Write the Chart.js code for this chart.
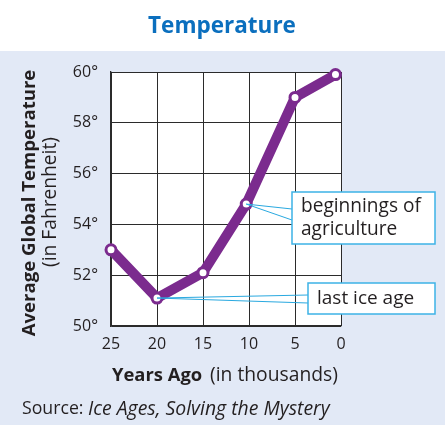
<!DOCTYPE html>
<html>
<head>
<meta charset="utf-8">
<script src="https://cdn.jsdelivr.net/npm/chart.js@4.4.1/dist/chart.umd.min.js"></script>
<style>
    html, body { margin: 0; padding: 0; background: #fff; }
</style>
</head>
<body>
<canvas id="myChart" width="445" height="425"></canvas>
<script>
// data
const yearsAgo = [25, 20, 15, 10.3, 5, 0.6]
const temps = [53, 51.1, 52.1, 54.8, 59, 59.9]
const yTicks = [50, 52, 54, 56, 58, 60]
const xTicks = [25, 20, 15, 10, 5, 0]
const noteLines = [['beginnings of', 'agriculture'], ['last ice age']]
const notePoints = [3, 1]

const FONT = '"Open Sans", "Noto Sans", sans-serif'
const INK = '#231f20'
const PURPLE = '#7b2b8e'
const CYAN = '#2aa9e0'

// boxes for the callouts (left, top, width, height) and where the wedge meets them
const noteBoxes = [
    { x: 292, y: 192, w: 143, h: 52, wedge: [209, 220], textW: 120 },
    { x: 308, y: 283, w: 127, h: 31, wedge: [295, 303], textW: 97 }
]

// size a font so the text takes up about the same width as in the original
function fit(ctx, text, style, width) {
    ctx.font = style + ' 16px ' + FONT
    const size = 16 * width / ctx.measureText(text).width
    return style + ' ' + size.toFixed(1) + 'px ' + FONT
}

const decorations = {
    id: 'decorations',
    beforeDraw(chart) {
        const { ctx, chartArea } = chart
        ctx.save()
        ctx.fillStyle = '#ffffff'
        ctx.fillRect(0, 0, chart.width, chart.height)
        ctx.fillStyle = '#e2e9f6'
        ctx.fillRect(0, 51, chart.width, chart.height - 51)
        ctx.fillStyle = '#ffffff'
        ctx.fillRect(chartArea.left, chartArea.top, chartArea.right - chartArea.left, chartArea.bottom - chartArea.top)
        ctx.restore()
    },
    afterDraw(chart) {
        const { ctx } = chart
        const xs = chart.scales.x
        const ys = chart.scales.y
        ctx.save()

        // title
        ctx.fillStyle = '#0b6fbe'
        ctx.font = fit(ctx, 'Temperature', 'bold', 148)
        ctx.textAlign = 'center'
        ctx.textBaseline = 'middle'
        ctx.fillText('Temperature', 222, 27)

        // y axis title, two lines
        ctx.fillStyle = INK
        ctx.save()
        ctx.translate(30, 203)
        ctx.rotate(-Math.PI / 2)
        ctx.font = fit(ctx, 'Average Global Temperature', 'bold', 267)
        ctx.fillText('Average Global Temperature', 0, 0)
        ctx.font = fit(ctx, '(in Fahrenheit)', 'normal', 130)
        ctx.fillText('(in Fahrenheit)', 1, 21)
        ctx.restore()

        // x axis title, mixed weights
        ctx.textAlign = 'left'
        const a = 'Years Ago'
        const b = '(in thousands)'
        ctx.font = fit(ctx, a, 'bold', 90)
        ctx.fillText(a, 112, 376)
        ctx.font = fit(ctx, b, 'normal', 128)
        ctx.fillText(b, 210, 376)

        // source line
        const s = 'Source: '
        const t = 'Ice Ages, Solving the Mystery'
        ctx.font = fit(ctx, s, 'normal', 66)
        ctx.fillText(s, 22, 409)
        ctx.font = fit(ctx, t, 'italic', 242)
        ctx.fillText(t, 88, 409)

        // callouts
        noteBoxes.forEach((box, i) => {
            const idx = notePoints[i]
            const px = xs.getPixelForValue(yearsAgo[idx])
            const py = ys.getPixelForValue(temps[idx])
            ctx.strokeStyle = CYAN
            ctx.lineWidth = 1
            ctx.beginPath()
            ctx.moveTo(px, py)
            ctx.lineTo(box.x, box.wedge[0])
            ctx.moveTo(px, py)
            ctx.lineTo(box.x, box.wedge[1])
            ctx.stroke()
            ctx.fillStyle = '#ffffff'
            ctx.fillRect(box.x, box.y, box.w, box.h)
            ctx.lineWidth = 1.5
            ctx.strokeStyle = '#3db2e6'
            ctx.strokeRect(box.x, box.y, box.w, box.h)
            ctx.fillStyle = INK
            const lines = noteLines[i]
            ctx.font = fit(ctx, lines[0], 'normal', box.textW)
            ctx.textAlign = 'left'
            ctx.textBaseline = 'middle'
            lines.forEach((t, j) => {
                ctx.fillText(t, box.x + 9, box.y + box.h / 2 + (j - (lines.length - 1) / 2) * 23)
            })
        })
        ctx.restore()
    }
}

const ctx = document.getElementById('myChart')
new Chart(ctx, {
    type: 'line',
    data: {
        datasets: [{
            data: yearsAgo.map((x, i) => ({ x: x, y: temps[i] })),
            borderColor: PURPLE,
            borderWidth: 10,
            borderCapStyle: 'round',
            borderJoinStyle: 'round',
            tension: 0,
            fill: false,
            pointRadius: 5,
            pointBorderWidth: 3,
            pointBackgroundColor: '#ffffff',
            pointBorderColor: PURPLE,
            clip: false
        }]
    },
    options: {
        responsive: false,
        animation: false,
        layout: { padding: { left: 0, right: 104, top: 72, bottom: 0 } },
        plugins: {
            legend: { display: false },
            tooltip: { enabled: false },
            title: { display: false }
        },
        scales: {
            x: {
                type: 'linear',
                reverse: true,
                min: 0,
                max: 25,
                afterFit(scale) { scale.height = 99 },
                afterBuildTicks(scale) { scale.ticks = xTicks.map(v => ({ value: v })) },
                ticks: { color: INK, font: { family: FONT, size: 16 }, padding: 9, maxRotation: 0 },
                grid: { color: '#2b2b2b', lineWidth: 1, drawTicks: false },
                border: { color: '#2b2b2b', width: 1.3 }
            },
            y: {
                min: 50,
                max: 60,
                afterFit(scale) { scale.width = 111 },
                afterBuildTicks(scale) { scale.ticks = yTicks.map(v => ({ value: v })) },
                ticks: { color: INK, font: { family: FONT, size: 16 }, padding: 13, callback: v => v + '°' },
                grid: { color: '#2b2b2b', lineWidth: 1, drawTicks: false },
                border: { color: '#2b2b2b', width: 1.3 }
            }
        }
    },
    plugins: [decorations]
})
</script>
</body>
</html>
